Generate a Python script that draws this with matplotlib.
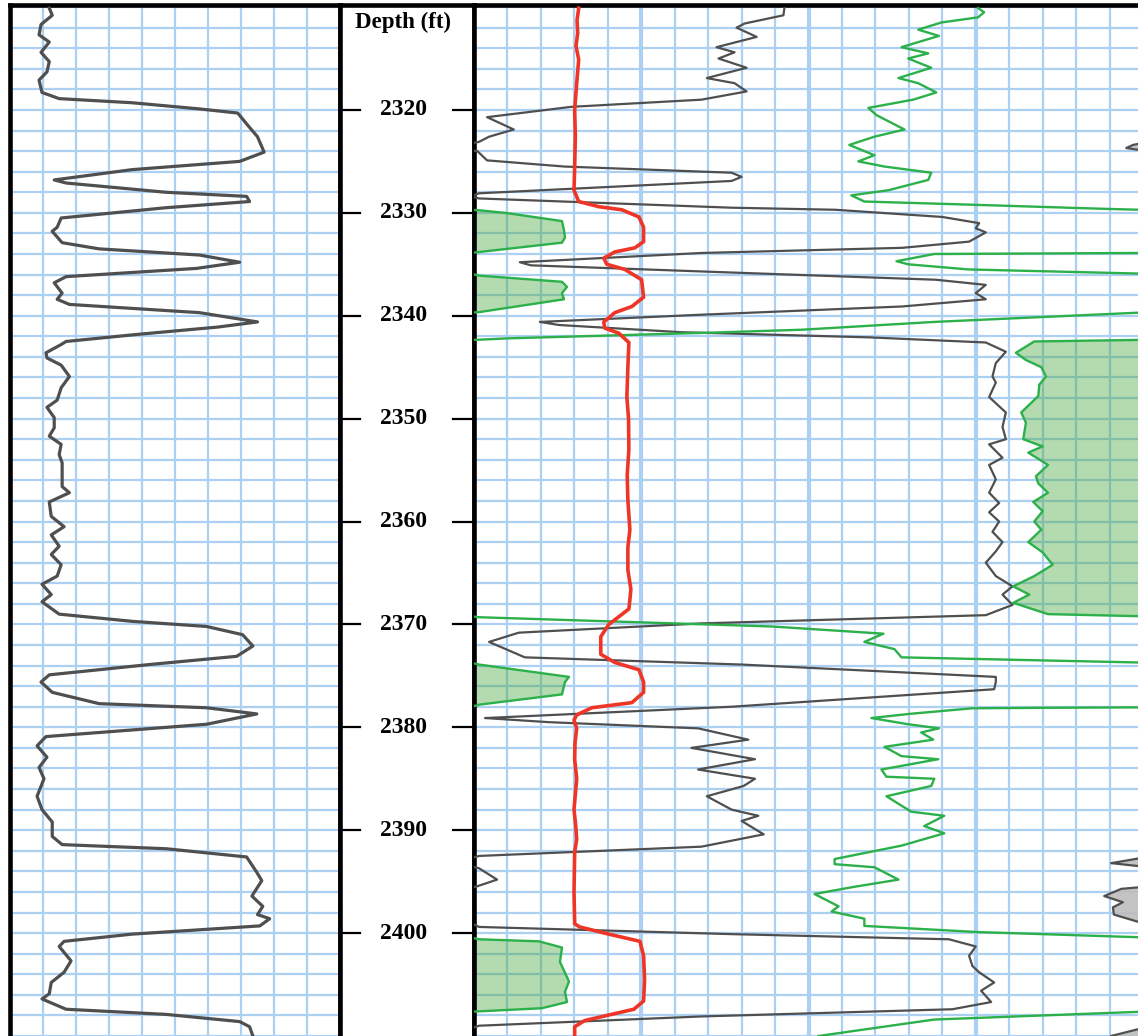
import numpy as np
import matplotlib.pyplot as plt

# left track curve: (depth ft, value in grid divisions 0-10)
left_curve = [
    (2310.1, 1.19), (2310.8, 1.28), (2311.7, 0.94), (2312.7, 0.88), (2313.4, 1.19),
    (2314.4, 0.94), (2315.3, 1.19), (2316.3, 1.12), (2317.1, 0.88), (2318.3, 0.97),
    (2318.9, 1.49), (2319.3, 3.7), (2319.9, 5.74), (2320.3, 6.9), (2321.7, 7.26),
    (2322.6, 7.5), (2324.1, 7.7), (2325.0, 6.96), (2325.8, 3.7), (2326.8, 1.34),
    (2327.1, 1.7), (2328.0, 4.73), (2328.4, 7.17), (2328.9, 7.26), (2329.5, 4.73),
    (2330.5, 1.55), (2331.4, 1.43), (2331.8, 1.28), (2332.9, 1.58), (2333.5, 2.7),
    (2334.1, 5.74), (2334.8, 6.96), (2335.4, 5.65), (2336.2, 1.7), (2336.8, 1.34),
    (2337.8, 1.58), (2338.4, 1.43), (2338.9, 1.8), (2339.7, 5.74), (2340.6, 7.5),
    (2341.1, 6.3), (2341.8, 3.9), (2342.5, 1.7), (2342.8, 1.55), (2343.6, 1.09),
    (2344.1, 1.12), (2344.8, 1.55), (2345.9, 1.8), (2347.0, 1.55), (2348.2, 1.43),
    (2348.9, 1.12), (2349.9, 1.34), (2350.9, 1.34), (2351.7, 1.19), (2352.5, 1.55),
    (2353.5, 1.49), (2354.3, 1.58), (2356.6, 1.58), (2357.2, 1.8), (2358.1, 1.19),
    (2359.5, 1.25), (2360.5, 1.64), (2361.3, 1.25), (2362.4, 1.49), (2363.2, 1.25),
    (2364.2, 1.55), (2365.3, 1.43), (2366.1, 0.97), (2367.1, 1.25), (2367.8, 0.97),
    (2369.0, 1.49), (2369.7, 3.7), (2370.2, 5.96), (2371.0, 7.05), (2372.1, 7.36),
    (2373.1, 6.87), (2373.9, 4.22), (2374.9, 1.19), (2375.6, 0.94), (2376.6, 1.28),
    (2377.7, 2.7), (2378.1, 5.96), (2378.7, 7.48), (2379.7, 5.96), (2380.9, 1.09),
    (2381.8, 0.82), (2382.9, 1.12), (2383.9, 0.88), (2385.0, 1.03), (2386.7, 0.82),
    (2388.0, 0.97), (2389.2, 1.28), (2390.6, 1.28), (2391.4, 1.58), (2391.8, 4.73),
    (2392.6, 7.17), (2394.1, 7.48), (2394.9, 7.63), (2396.4, 7.33), (2397.4, 7.66),
    (2398.2, 7.5), (2398.6, 7.87), (2399.3, 7.57), (2400.1, 3.7), (2400.8, 1.64),
    (2401.3, 1.49), (2402.7, 1.85), (2403.8, 1.64), (2404.8, 1.25), (2405.9, 1.19),
    (2406.4, 0.97), (2407.4, 1.7), (2407.9, 4.73), (2408.6, 6.96), (2409.1, 7.26),
    (2410.0, 7.36),
]

# right track gray curve (0-20 divisions, wraps around the track edges)
right_gray = [
    (2310.1, 9.28), (2310.8, 9.25), (2311.6, 8.09), (2312.0, 7.85), (2312.9, 8.45),
    (2313.9, 7.25), (2314.4, 7.79), (2315.0, 7.31), (2315.9, 8.15), (2316.9, 6.96),
    (2317.4, 7.79), (2318.2, 8.15), (2319.0, 6.8), (2319.7, 2.9), (2320.7, 0.39),
    (2321.9, 1.19), (2322.6, 0.45), (2323.1, 0.15), (2323.4, -0.3), (2323.7, -0.5),
    (2324.0, 0.1), (2324.9, 0.39), (2325.5, 2.7), (2326.1, 7.7), (2326.5, 8.0),
    (2326.9, 7.7), (2328.1, 0.15), (2328.4, -0.1), (2328.6, 0.15), (2329.5, 7.7),
    (2329.7, 10.8), (2330.4, 14.0), (2331.0, 15.1), (2331.5, 15.0), (2331.9, 15.3),
    (2332.8, 14.8), (2333.4, 12.8), (2333.9, 6.8), (2334.8, 1.37), (2335.1, 1.7),
    (2335.8, 7.7), (2336.5, 13.8), (2337.0, 15.3), (2337.8, 15.0), (2338.4, 15.3),
    (2339.1, 12.8), (2339.9, 6.8), (2340.6, 1.97), (2340.9, 2.54), (2341.6, 6.2),
    (2342.1, 11.8), (2342.6, 15.3), (2343.5, 15.9), (2344.6, 15.6), (2345.9, 15.5),
    (2346.5, 15.6), (2347.9, 15.4), (2349.4, 15.9), (2350.8, 15.8), (2352.0, 15.9),
    (2352.5, 15.4), (2353.8, 15.8), (2354.5, 15.4), (2355.9, 15.6), (2357.2, 15.4),
    (2358.2, 15.7), (2359.1, 15.4), (2360.0, 15.7), (2361.0, 15.5), (2362.0, 15.8),
    (2362.9, 15.6), (2364.0, 15.3), (2365.3, 15.6), (2366.3, 16.1), (2367.1, 15.8),
    (2368.1, 16.1), (2369.1, 15.3), (2369.9, 6.8), (2370.8, 1.34), (2371.7, 0.45),
    (2373.2, 1.52), (2373.9, 8.0), (2375.1, 15.6), (2375.6, 15.6), (2376.3, 15.55),
    (2378.0, 7.7), (2379.1, 0.33), (2379.5, 2.24), (2380.1, 6.7), (2381.2, 8.2),
    (2382.0, 6.5), (2383.1, 8.4), (2384.1, 6.7), (2385.0, 8.4), (2385.7, 8.06),
    (2386.7, 6.96), (2388.0, 7.7), (2388.6, 8.5), (2389.1, 8.0), (2390.4, 8.66),
    (2391.6, 6.8), (2392.5, 0.15), (2392.7, -0.05), (2393.2, -0.95), (2393.5, -0.1),
    (2393.7, 0.15), (2394.8, 0.69), (2395.5, 0.05), (2395.7, -0.65), (2396.4, -1.16),
    (2397.0, -0.6), (2397.5, -0.9), (2398.2, -0.87), (2398.9, -0.15), (2399.4, 0.15),
    (2400.1, 7.7), (2400.6, 14.2), (2401.3, 15.0), (2402.2, 14.8), (2403.2, 14.9),
    (2403.8, 15.1), (2404.8, 15.55), (2405.6, 15.16), (2406.7, 15.46), (2407.4, 14.3),
    (2408.1, 6.8), (2409.0, 0.15), (2409.3, -0.1), (2410.0, -0.95),
]

# right track green curve (0-20 divisions, wraps around the track edges)
right_green = [
    (2310.1, 15.07), (2310.5, 15.25), (2311.0, 15.07), (2311.5, 13.97), (2312.2, 13.28),
    (2312.8, 13.9), (2313.9, 12.78), (2314.5, 13.58), (2315.0, 12.98), (2315.9, 13.67),
    (2316.9, 12.69), (2317.4, 13.28), (2318.3, 13.82), (2319.0, 13.13), (2319.8, 11.79),
    (2320.5, 12.03), (2321.9, 12.87), (2322.6, 11.97), (2323.4, 11.22), (2324.4, 11.97),
    (2325.0, 11.49), (2325.5, 12.27), (2326.1, 13.67), (2326.8, 13.58), (2327.8, 12.39),
    (2328.3, 11.28), (2328.9, 11.67), (2329.2, 14.78), (2329.6, 18.75), (2329.7, 19.9),
    (2329.75, 20.15), (2330.0, 20.93), (2330.8, 22.63), (2331.7, 22.69), (2332.4, 22.72),
    (2332.9, 22.63), (2333.8, 20.15), (2333.9, 19.9), (2334.0, 13.76), (2334.7, 12.63),
    (2335.0, 12.98), (2335.5, 14.78), (2335.9, 19.88), (2336.1, 20.15), (2336.7, 22.63),
    (2337.2, 22.78), (2337.8, 22.63), (2338.4, 22.69), (2339.65, 20.15), (2339.7, 19.88),
    (2340.6, 13.76), (2341.36, 9.79), (2341.65, 7.0), (2342.2, 1.0), (2342.33, 0.15),
    (2342.35, -0.12), (2342.5, -3.25), (2343.6, -3.8), (2344.3, -3.5), (2345.0, -3.04),
    (2345.9, -2.9), (2346.7, -3.1), (2347.8, -3.13), (2349.4, -3.64), (2350.4, -3.5),
    (2352.0, -3.58), (2352.7, -3.0), (2353.3, -3.43), (2354.5, -2.84), (2355.6, -3.2),
    (2356.3, -3.13), (2357.2, -2.84), (2358.1, -3.28), (2359.0, -3.0), (2360.0, -3.25),
    (2360.8, -3.04), (2362.0, -3.43), (2363.0, -3.0), (2364.2, -2.7), (2365.3, -3.25),
    (2366.3, -3.88), (2367.1, -3.4), (2367.9, -3.88), (2369.0, -2.84), (2369.2, -0.12),
    (2369.3, 0.15), (2369.8, 5.0), (2370.2, 8.9), (2370.9, 12.24), (2371.7, 11.67),
    (2372.4, 12.57), (2373.2, 12.78), (2373.7, 19.88), (2373.9, 20.15), (2375.1, 22.84),
    (2375.6, 22.72), (2376.8, 22.63), (2377.8, 20.15), (2378.06, 19.88), (2378.1, 17.2),
    (2378.15, 14.9), (2378.7, 13.0), (2379.1, 11.88), (2379.7, 12.98), (2380.1, 13.9),
    (2380.5, 13.37), (2381.2, 13.73), (2381.9, 12.27), (2382.8, 12.78), (2383.1, 13.88),
    (2384.1, 12.18), (2384.8, 12.33), (2385.0, 13.76), (2385.7, 13.67), (2386.7, 12.33),
    (2388.2, 13.07), (2388.6, 14.06), (2389.6, 13.46), (2390.3, 14.06), (2391.5, 12.78),
    (2392.8, 10.78), (2393.3, 10.78), (2393.6, 11.97), (2394.8, 12.69), (2395.5, 11.37),
    (2396.2, 10.18), (2397.4, 10.9), (2397.9, 10.69), (2398.6, 11.67), (2399.3, 11.67),
    (2399.9, 15.07), (2400.4, 19.88), (2400.6, 20.15), (2400.8, 21.94), (2401.4, 22.63),
    (2402.8, 22.57), (2404.7, 22.84), (2405.7, 22.72), (2406.7, 22.78), (2407.3, 22.03),
    (2407.6, 20.15), (2407.65, 19.88), (2408.4, 13.76), (2410.0, 10.3),
]

# right track red curve
right_red = [
    (2310.1, 3.13), (2311.3, 3.08), (2312.5, 3.10), (2313.8, 3.05), (2315.1, 3.13),
    (2317.4, 3.07), (2320.0, 3.01), (2322.5, 3.03), (2325.5, 3.01), (2327.8, 2.99),
    (2328.9, 3.13), (2329.4, 3.73), (2329.7, 4.42), (2330.4, 4.93), (2331.4, 5.07),
    (2332.8, 5.07), (2333.4, 4.81), (2333.8, 4.21), (2334.4, 3.88), (2335.0, 3.97),
    (2335.5, 4.51), (2336.5, 5.01), (2338.2, 5.07), (2339.1, 4.72), (2339.7, 4.21),
    (2340.6, 3.88), (2341.2, 3.91), (2341.7, 4.33), (2342.6, 4.63), (2345.0, 4.6),
    (2347.9, 4.57), (2350.0, 4.62), (2353.0, 4.63), (2355.5, 4.58), (2357.9, 4.6),
    (2360.8, 4.66), (2362.5, 4.6), (2364.7, 4.6), (2366.6, 4.69), (2367.6, 4.66),
    (2368.5, 4.63), (2370.0, 4.03), (2371.2, 3.79), (2372.9, 3.79), (2373.7, 4.21),
    (2374.4, 4.93), (2375.6, 5.07), (2376.6, 5.07), (2377.6, 4.72), (2378.1, 3.52),
    (2378.8, 3.07), (2379.3, 2.99), (2380.1, 3.07), (2381.5, 3.02), (2383.1, 3.01),
    (2385.0, 3.07), (2386.5, 3.03), (2388.0, 2.99), (2389.5, 3.04), (2390.9, 3.07),
    (2392.1, 3.01), (2396.0, 2.99), (2399.1, 3.01), (2399.4, 3.16), (2400.1, 4.03),
    (2400.8, 4.96), (2402.2, 5.07), (2404.5, 5.10), (2406.6, 5.07), (2407.4, 4.78),
    (2408.5, 3.31), (2409.1, 3.01), (2410.0, 3.01),
]

depth_labels = [2320, 2330, 2340, 2350, 2360, 2370, 2380, 2390, 2400]

W, H = 1138, 1036
TOP, BOTTOM = 2309.8, 2410.0
grid_c = '#acd0f2'
gray_c = '#4f4f4f'
green_c = '#2bb04a'
red_c = '#ee3526'

fig = plt.figure(figsize=(W / 100, H / 100), dpi=100)


def track(x0, x1):
    ax = fig.add_axes([x0 / W, 0, (x1 - x0) / W, (H - 5) / H])
    ax.set_ylim(BOTTOM, TOP)
    ax.set_xticks([])
    ax.set_yticks([])
    for s in ax.spines.values():
        s.set_linewidth(3.3)
        s.set_color('black')
    ax.spines['bottom'].set_visible(False)
    return ax


def depth_grid(ax):
    for d in range(2310, 2411, 2):
        ax.axhline(d, color=grid_c, lw=1.6, zorder=0)


# left track
ax1 = track(10, 340)
ax1.set_xlim(0, 10)
depth_grid(ax1)
for k in range(1, 10):
    ax1.axvline(k, color=grid_c, lw=1.6, zorder=0)
d, v = np.array(left_curve).T
ax1.plot(v, d, color=gray_c, lw=2.3, zorder=3)

# depth track
ax2 = track(340, 474)
ax2.set_xlim(0, 1)
ax2.text(0.47, 2311.5, 'Depth (ft)', ha='center', va='center',
         fontsize=16.5, fontweight='bold', family='Liberation Serif')
for dl in depth_labels:
    ax2.plot([0, 0.15], [dl, dl], color='black', lw=1.6)
    ax2.plot([0.843, 1], [dl, dl], color='black', lw=1.6)
    ax2.text(0.475, dl, str(dl), ha='center', va='center',
             fontsize=17, fontweight='bold', family='Liberation Serif')

# right track
ax3 = track(474, 1143)
ax3.set_xlim(0, 20)
depth_grid(ax3)
for k in range(1, 20):
    ax3.axvline(k, color=grid_c, lw=3.0 if k % 5 == 0 else 1.6, zorder=0)


def wrapped(ax, data, color, lw, fill_c, alpha):
    d, v = np.array(data).T
    ax.fill_betweenx(d, 0, np.clip(v - 20, 0, None), color=fill_c, alpha=alpha,
                     lw=0, zorder=1)
    ax.fill_betweenx(d, np.clip(v + 20, None, 20), 20, color=fill_c, alpha=alpha,
                     lw=0, zorder=1)
    for off in (0, -20, 20):
        ax.plot(v + off, d, color=color, lw=lw, zorder=3)


wrapped(ax3, right_gray, gray_c, 1.6, '#bdbdbd', 0.9)
wrapped(ax3, right_green, green_c, 1.7, '#43a539', 0.4)
d, v = np.array(right_red).T
ax3.plot(v, d, color=red_c, lw=2.6, zorder=4)

fig.savefig('out.png', dpi=100)
